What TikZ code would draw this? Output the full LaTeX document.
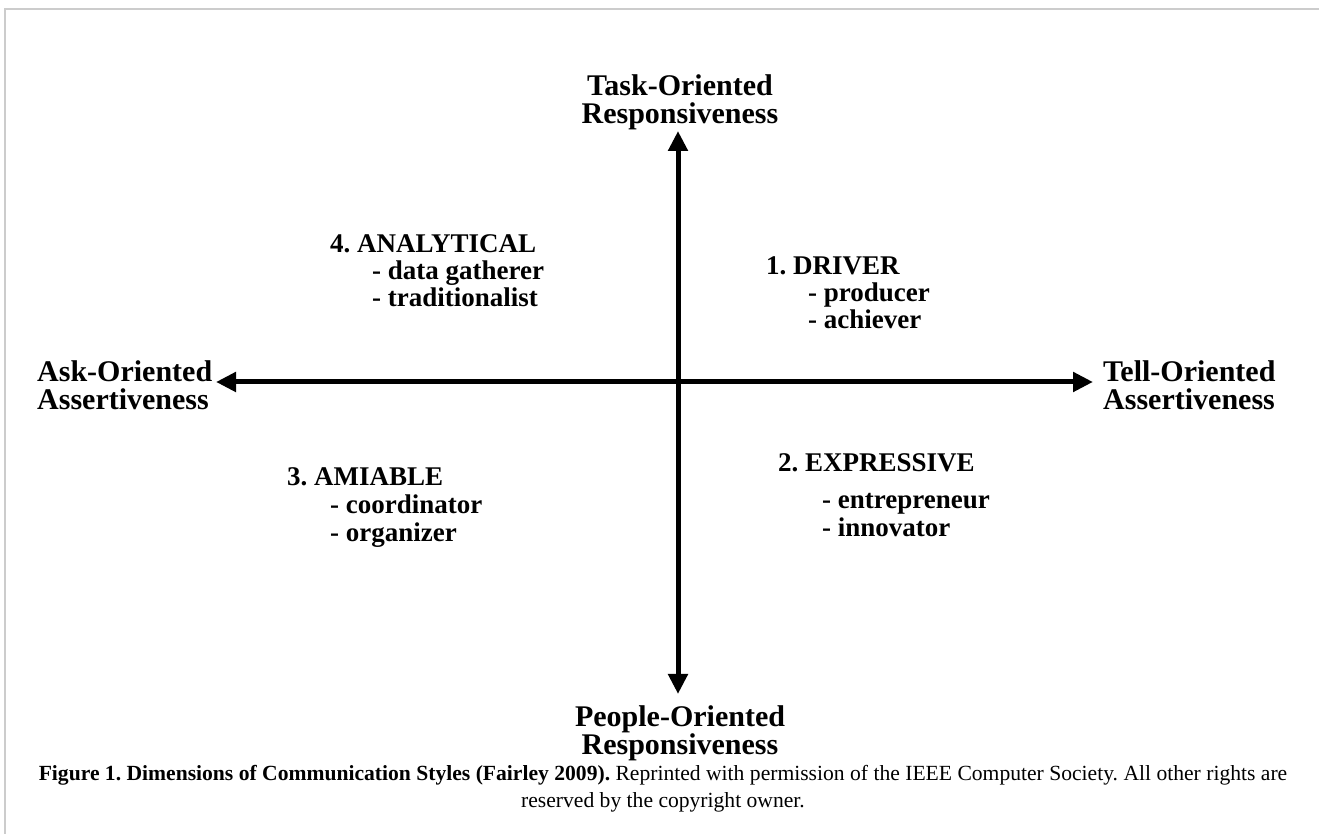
\documentclass[tikz,border=0pt]{standalone}
\usepackage{fontspec}
\setmainfont{Liberation Serif}
\usetikzlibrary{arrows.meta}
\begin{document}
\frenchspacing
\begin{tikzpicture}[x=1pt,y=1pt,
  axis/.style={line width=5pt, {Triangle[width=19pt,length=20pt]}-{Triangle[width=19pt,length=20pt]}},
  axlabel/.style={font=\fontsize{30}{28}\selectfont\bfseries, inner sep=0pt},
  qtext/.style={font=\fontsize{27}{27}\selectfont\bfseries, inner sep=0pt, anchor=base west},
  captxt/.style={font=\fontsize{21.6}{27}\selectfont, inner sep=0pt, anchor=base},
  frameline/.style={draw=gray!40, line width=2pt}]
\useasboundingbox (0,0) rectangle (1319,834);
\draw[frameline] (1319,825) -- (5,825) -- (5,0);

% axes
\coordinate (T) at (678,703);
\coordinate (B) at (678,140);
\coordinate (L) at (216,452);
\coordinate (R) at (1093,452);
\draw[axis] (B) -- (T);
\draw[axis] (L) -- (R);

% axis labels
\node[axlabel, anchor=base] (top1) at (680,738) {Task-Oriented};
\node[axlabel, anchor=base] (top2) at (680,710) {Responsiveness};
\node[axlabel, anchor=base] (bot1) at (680,107) {People-Oriented};
\node[axlabel, anchor=base] (bot2) at (680,79) {Responsiveness};
\node[axlabel, anchor=base west] (lft1) at (37,452) {Ask-Oriented};
\node[axlabel, anchor=base west] (lft2) at (37,424) {Assertiveness};
\node[axlabel, anchor=base west] (rgt1) at (1103,452) {Tell-Oriented};
\node[axlabel, anchor=base west] (rgt2) at (1103,424) {Assertiveness};

% quadrants
\node[qtext] (q4h) at (330,581) {4. ANALYTICAL};
\node[qtext] (q4a) at (372,554) {- data gatherer};
\node[qtext] (q4b) at (372,527) {- traditionalist};

\node[qtext] (q1h) at (766,559) {1. DRIVER};
\node[qtext] (q1a) at (808,532) {- producer};
\node[qtext] (q1b) at (808,505) {- achiever};

\node[qtext] (q3h) at (287,348) {3. AMIABLE};
\node[qtext] (q3a) at (330,320) {- coordinator};
\node[qtext] (q3b) at (330,292) {- organizer};

\node[qtext] (q2h) at (778,362) {2. EXPRESSIVE};
\node[qtext] (q2a) at (822,325) {- entrepreneur};
\node[qtext] (q2b) at (822,297) {- innovator};

% caption
\node[captxt] (cap1) at (663,53) {\textbf{Figure 1. Dimensions of Communication Styles (Fairley 2009).} Reprinted with permission of the IEEE Computer Society. All other rights are};
\node[captxt] (cap2) at (663,26) {reserved by the copyright owner.};
\end{tikzpicture}
\end{document}
